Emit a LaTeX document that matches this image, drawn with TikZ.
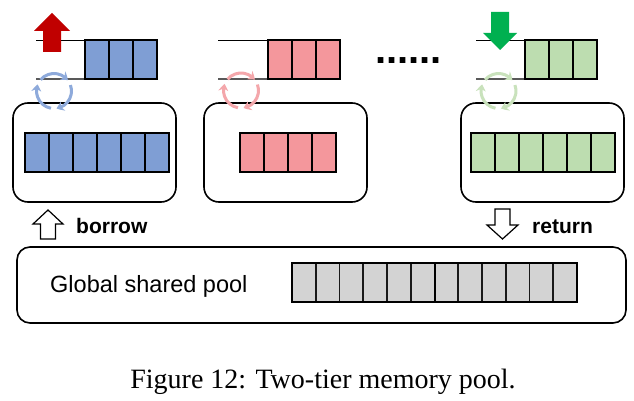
\documentclass[tikz,border=0pt]{standalone}
\usepackage{fontspec}
\setmainfont{Liberation Serif}
\setsansfont{Liberation Sans}
\usetikzlibrary{positioning, calc}
\usetikzlibrary{arrows.meta, bending}

\definecolor{blockblue}{HTML}{7F9ED4}
\definecolor{blockpink}{HTML}{F4979C}
\definecolor{blockgreen}{HTML}{BDDDB0}
\definecolor{blockgray}{HTML}{D3D3D3}
\definecolor{cycblue}{HTML}{8EAADB}
\definecolor{cycpink}{HTML}{F4A7AB}
\definecolor{cycgreen}{HTML}{C9E2BC}
\definecolor{upred}{HTML}{C00000}
\definecolor{downgreen}{HTML}{00B050}

\tikzset{
  cell/.style={draw=black, line width=2pt, minimum width=24pt, minimum height=39pt, inner sep=0pt, outer sep=0pt},
  poolcell/.style={cell, fill=blockgray, minimum width=23.75pt, draw=black!90, line width=1.6pt},
  localbox/.style={draw, line width=1.6pt, rounded corners=15pt, minimum width=163pt, minimum height=99pt, inner sep=0pt},
  poolbox/.style={draw, line width=1.6pt, rounded corners=13pt, minimum width=609pt, minimum height=76pt, inner sep=0pt},
  cycle arrow/.style={line width=3pt, -{Stealth[length=7pt, width=10pt, bend]}},
  queue top/.style={line width=0.9pt},
  queue bottom/.style={line width=1.4pt, draw=black!65},
  hollow arrow/.style={draw, fill=white, line width=1.2pt, line join=miter},
  label text/.style={font=\sffamily\bfseries\fontsize{21}{25}\selectfont, inner sep=0pt},
}

\begin{document}
\begin{tikzpicture}[x=1pt, y=-1pt]
  \useasboundingbox (0,0) rectangle (634,401);
  \fill[white] (0,0) rectangle (634,401);

  % local pools
  \node[localbox] (box1) at (94.5,152.5) {};
  \node[localbox] (box2) at (285.5,152.5) {};
  \node[localbox] (box3) at (542.5,152.5) {};
  \foreach \i in {1,...,6}
    \node[cell, fill=blockblue] (blue\i) at (13+24*\i,152.5) {};
  \foreach \i in {1,...,4}
    \node[cell, fill=blockpink] (pink\i) at (228+24*\i,152.5) {};
  \foreach \i in {1,...,6}
    \node[cell, fill=blockgreen] (green\i) at (459+24*\i,152.5) {};

  % queues
  \draw[queue top] (36,40) -- (157,40);
  \draw[queue bottom] (36,79) -- (157,79);
  \draw[queue top] (218,40) -- (340,40);
  \draw[queue bottom] (218,79) -- (340,79);
  \draw[queue top] (476,40) -- (597,40);
  \draw[queue bottom] (476,79) -- (597,79);
  \foreach \i in {1,...,3} {
    \node[cell, fill=blockblue] (qblue\i) at (73+24*\i,59.5) {};
    \node[cell, fill=blockpink] (qpink\i) at (256+24*\i,59.5) {};
    \node[cell, fill=blockgreen] (qgreen\i) at (513+24*\i,59.5) {};
  }

  % out / in arrows
  \fill[upred] (43,52) -- (43,31) -- (34,31) -- (52,13) -- (70,31) -- (61,31) -- (61,52) -- cycle;
  \fill[downgreen] (491,12) -- (491,33) -- (483,33) -- (500,50) -- (517,33) -- (509,33) -- (509,12) -- cycle;

  \node[font=\sffamily\bfseries\fontsize{40}{44}\selectfont, anchor=base west, inner sep=0pt] (dots) at (375,64) {......};

  % refill cycles
  \coordinate (cyc1) at (54,91);
  \coordinate (cyc2) at (241,90.5);
  \coordinate (cyc3) at (498.5,91);
  \foreach \a in {-140,-20,100} {
    \draw[cycle arrow, cycblue] ($(cyc1)+(\a:17.5)$) arc[start angle=\a, delta angle=102, radius=17.5];
    \draw[cycle arrow, cycpink] ($(cyc2)+(\a:17.5)$) arc[start angle=\a, delta angle=102, radius=17.5];
    \draw[cycle arrow, cycgreen] ($(cyc3)+(\a:17.5)$) arc[start angle=\a, delta angle=102, radius=17.5];
  }

  % borrow / return
  \draw[hollow arrow] (40.5,239) -- (40.5,224) -- (33,224) -- (48,210) -- (63,224) -- (55.5,224) -- (55.5,239) -- cycle;
  \node[label text, anchor=base west] (borrow) at (76,233) {borrow};
  \draw[hollow arrow] (495,209) -- (495,225) -- (487,225) -- (502.5,239) -- (518,225) -- (510,225) -- (510,209) -- cycle;
  \node[label text, anchor=base west] (return) at (532,233) {return};

  % global pool
  \node[poolbox] (pool) at (321.5,285) {};
  \node[font=\sffamily\fontsize{23.5}{28}\selectfont, anchor=base west, inner sep=0pt] (pooltext) at (50,292) {Global shared pool};
  \foreach \i in {1,...,12}
    \node[poolcell] (gray\i) at (280.125+23.75*\i,282.5) {};
  \draw[line width=2pt] (gray1.north west) rectangle (gray6.south east);
  \draw[line width=1.6pt] (gray7.north west) rectangle (gray12.south east);

  \node[font=\fontsize{28}{32}\selectfont, anchor=base, inner sep=0pt] (caption) at (323,388) {Figure 12: Two-tier memory pool.};
\end{tikzpicture}
\end{document}
